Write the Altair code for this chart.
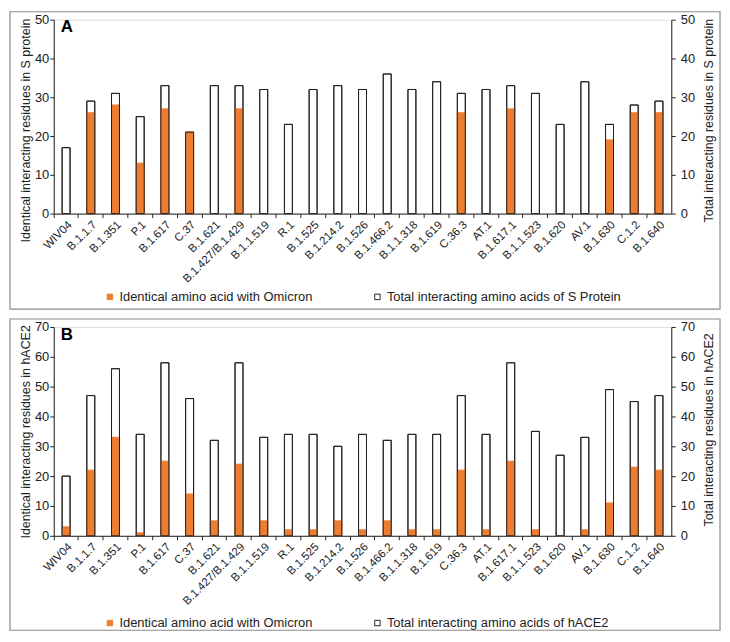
import altair as alt
import pandas as pd

categories = ["WIV04", "B.1.1.7", "B.1.351", "P.1", "B.1.617", "C.37", "B.1.621",
              "B.1.427/B.1.429", "B.1.1.519", "R.1", "B.1.525", "B.1.214.2", "B.1.526",
              "B.1.466.2", "B.1.1.318", "B.1.619", "C.36.3", "AT.1", "B.1.617.1",
              "B.1.1.523", "B.1.620", "AV.1", "B.1.630", "C.1.2", "B.1.640"]

a_total = [17, 29, 31, 25, 33, 21, 33, 33, 32, 23, 32, 33, 32, 36, 32, 34, 31, 32, 33, 31, 23, 34, 23, 28, 29]
a_ident = [0, 26, 28, 13, 27, 21, 0, 27, 0, 0, 0, 0, 0, 0, 0, 0, 26, 0, 27, 0, 0, 0, 19, 26, 26]

b_total = [20, 47, 56, 34, 58, 46, 32, 58, 33, 34, 34, 30, 34, 32, 34, 34, 47, 34, 58, 35, 27, 33, 49, 45, 47]
b_ident = [3, 22, 33, 1, 25, 14, 5, 24, 5, 2, 2, 5, 2, 5, 2, 2, 22, 2, 25, 2, 0, 2, 11, 23, 22]

ORANGE = "#ED7D31"
INK = "#222222"
FONT = "Liberation Sans"
W = 621


def panel(total, ident, ymax, left_title, right_title, letter, total_label, height,
          legend_y, frame_top, frame_bottom, left_title_y, right_title_y, letter_y):
    ident_label = "Identical amino acid with Omicron"
    rows = [{"cat": c, "series": total_label, "value": v} for c, v in zip(categories, total)]
    rows += [{"cat": c, "series": ident_label, "value": v} for c, v in zip(categories, ident)]
    df = pd.DataFrame(rows)
    df_tot = pd.DataFrame({"cat": categories, "value": total})
    one = pd.DataFrame({"k": [0]})

    xscale = alt.Scale(paddingInner=0, paddingOuter=0)
    yscale = alt.Scale(domain=[0, ymax])
    yvals = list(range(0, ymax + 1, 10))
    leg = alt.Legend(title=None, orient="none", legendX=50, legendY=legend_y,
                     direction="horizontal", symbolType="square", symbolSize=30,
                     labelFont=FONT, labelFontSize=13, labelColor=INK, labelLimit=400,
                     columnPadding=58, symbolStrokeWidth=1, labelOffset=3)

    bars = alt.Chart(df).mark_bar(size=8, strokeWidth=1).encode(
        x=alt.X("cat:N", sort=categories, scale=xscale, title=None,
                axis=alt.Axis(labelAngle=315, ticks=False, labelFont=FONT, labelFontSize=11.5,
                              labelColor=INK, domainColor=INK, labelPadding=5,
                              labelOverlap=False)),
        y=alt.Y("value:Q", stack=None, scale=yscale, title=left_title,
                axis=alt.Axis(values=yvals, grid=False, labelFont=FONT,
                              labelFontSize=13, labelColor=INK, titleFont=FONT,
                              titleFontSize=12.5, titleFontWeight="normal", titleColor=INK,
                              domainColor=INK, tickColor=INK, tickSize=4, labelPadding=1,
                              titlePadding=2, titleY=left_title_y)),
        fill=alt.Fill("series:N", scale=alt.Scale(domain=[ident_label, total_label],
                                                   range=[ORANGE, "white"]), legend=leg),
        stroke=alt.Stroke("series:N", scale=alt.Scale(domain=[ident_label, total_label],
                                                       range=[ORANGE, INK]), legend=leg),
    )

    outline = alt.Chart(df_tot).mark_bar(size=8, fillOpacity=0, stroke=INK, strokeWidth=1).encode(
        x=alt.X("cat:N", sort=categories, scale=xscale, title=None,
                axis=alt.Axis(labels=False, ticks=True, bandPosition=0, domain=False,
                              tickColor=INK, tickSize=4, orient="bottom")),
        y=alt.Y("value:Q", scale=yscale, title=right_title,
                axis=alt.Axis(orient="right", values=yvals, grid=False,
                              labelFont=FONT, labelFontSize=13, labelColor=INK,
                              titleFont=FONT, titleFontSize=12.5, titleFontWeight="normal",
                              titleColor=INK, titleAngle=270, titleBaseline="top",
                              domainColor=INK, tickColor=INK, tickSize=4, labelPadding=5,
                              titlePadding=8, titleY=right_title_y)),
    )

    frame = alt.Chart(one).mark_rect(fillOpacity=0, stroke="#8a8a8a", strokeWidth=1.2).encode(
        x=alt.value(-44), x2=alt.value(W + 49), y=alt.value(frame_top), y2=alt.value(height + frame_bottom)
    )

    label = alt.Chart(one).mark_text(align="left", baseline="alphabetic", font=FONT,
                                     fontSize=17, fontWeight="bold", color="black").encode(
        x=alt.value(7), y=alt.value(letter_y), text=alt.value(letter)
    )

    return alt.layer(frame, bars, outline, label).resolve_axis(
        x="independent", y="independent").properties(width=W, height=height)


pa = panel(a_total, a_ident, 50, "Identical interacting residues in S protein",
           "Total interacting residues in S protein", "A",
           "Total interacting amino acids of S Protein", 195,
           legend_y=272, frame_top=-8, frame_bottom=96,
           left_title_y=111, right_title_y=101, letter_y=12)
pb = panel(b_total, b_ident, 70, "Identical interacting residues in hACE2",
           "Total interacting residues in hACE2", "B",
           "Total interacting amino acids of hACE2", 210,
           legend_y=291, frame_top=-8, frame_bottom=95,
           left_title_y=105, right_title_y=103, letter_y=13)

chart = alt.vconcat(pa, pb, spacing=6).resolve_scale(fill="independent", stroke="independent").properties(
    padding=0).configure_view(strokeWidth=0).configure(background="white")

chart.save("out.html", embed_options={"renderer": "svg", "actions": False})
